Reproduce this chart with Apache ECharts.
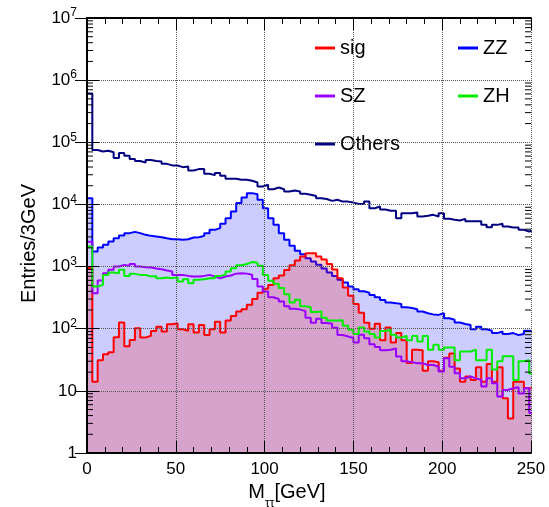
<!DOCTYPE html>
<html><head><meta charset="utf-8">
<script src="https://cdn.jsdelivr.net/npm/echarts@6/dist/echarts.min.js"></script>
<style>html,body{margin:0;padding:0;background:#fff}#c{width:549px;height:507px}</style>
</head><body><div id="c"></div>
<script>
// ---- data (3 GeV bins starting at 0 GeV) ----
const binWidth = 3;
const nBins = 84;
const binLow = Array.from({length: nBins}, (_, i) => i * binWidth);

const sig = [950,14,31,39,42,73,126,52,66,102,72,77,92,108,90,118,122,98,93,118,87,115,79,98,130,87,135,160,190,206,
  242,300,380,440,507,650,720,880,1050,1250,1450,1640,1640,1450,1300,1100,900,650,460,340,250,180,125,100,120,65,105,60,85,65,
  28,46,45,21,30,29,21,34,40,23,14,17,15,24,14,27,14,24,7.6,3.6,14,14,11,11];
const ZZ = [12600,1750,2030,2240,2530,2860,3160,3450,3620,3450,3240,3120,3050,2970,2860,2760,2760,2690,2760,2930,2970,3120,3450,3900,4150,4870,6010,7700,10500,12900,
  15200,14600,11900,8710,6010,4690,3450,2690,2155,1790,1580,1364,1205,1065,930,802,708,611,553,477,432,400,378,350,320,290,265,258,250,222,
  215,206,189,177,170,167,177,147,139,126,119,115,98,108,98,93,85,90,82,85,79,82,93,90];
const SZ = [2500,373,596,782,885,1001,1065,1026,1105,1001,977,965,930,907,863,832,735,735,708,691,691,708,735,691,650,691,720,770,780,770,
  740,630,477,396,320,300,275,230,210,203,192,150,125,145,124,120,104,79,75,71,60,80,70,56,51,45,46,48,35.6,30,
  29,27.8,27.8,26.1,26.1,24.5,20.4,33.4,24.5,19.2,15.9,17,15.9,15,11.7,15.9,13.2,8.1,10.3,11,11.4,9.1,11,4.4];
const ZH = [2100,477,507,735,802,782,885,708,763,735,735,691,708,650,666,650,674,574,626,540,611,626,650,650,708,735,830,940,1050,1100,
  1180,1150,1030,730,590,530,450,360,265,293,230,222,185,189,150,135,135,137,112,96,82,105,90,82,72,92,95,80,72,77,
  65,76,62,76,46,55,46,50,50,31,43,43,46,31,31,46,22,30,36,36,15,30,31,19];
const Others = [610000,75000,71000,73000,69000,56000,67000,61000,54000,50000,47000,52000,50000,49000,45000,42500,42400,39800,40800,35200,37000,37000,31100,29600,31900,28900,25800,25800,24900,24900,
  24000,22500,19400,20700,17600,18700,17600,16200,16800,16200,14800,14300,13700,12600,12200,11400,11900,11100,11100,10700,10200,10200,11100,8700,9260,8300,7900,7890,6010,7230,
  7230,7410,6390,6550,6800,6390,7230,5860,5650,5510,5860,5380,5380,5380,4690,4310,4690,4870,4410,4250,4250,3900,3670,3900];

const xTicks = [0, 50, 100, 150, 200, 250];
const yMin = 1, yMax = 1e7;
const yMinorTicks = [];
for (let e = 0; e < 7; e++) for (let m = 2; m <= 9; m++) yMinorTicks.push(m * Math.pow(10, e));

const FONT = 'Liberation Sans, Arial, Helvetica, sans-serif';

function stepData(vals) {
  const d = vals.map((v, i) => [binLow[i], v]);
  d.push([binLow[nBins - 1] + binWidth, vals[nBins - 1]]);
  return d;
}

function histSeries(name, vals, color, fill, z) {
  const s = {
    name, type: 'line', step: 'end', data: stepData(vals), symbol: 'none',
    color: color, lineStyle: {color: color, width: 2}, z: z, clip: true,
    emphasis: {disabled: true}, animation: false, xAxisIndex: 0, yAxisIndex: 0
  };
  if (fill) s.areaStyle = {color: fill, opacity: 1, origin: 'start'};
  return s;
}

const axisLineStyle = {show: true, lineStyle: {color: '#000', width: 2}};

const chart = echarts.init(document.getElementById('c'), null, {renderer: 'canvas'});
chart.setOption({
  animation: false,
  backgroundColor: '#fff',
  grid: {left: 87, right: 18, top: 18, bottom: 54, containLabel: false, outerBoundsMode: 'none'},
  legend: [
    {data: ['sig', 'SZ', 'Others'], orient: 'vertical', left: 310, top: 31, itemGap: 24,
     itemWidth: 20, itemHeight: 3, icon: 'rect', selectedMode: false,
     textStyle: {fontSize: 20, color: '#000', fontFamily: FONT, lineHeight: 24}},
    {data: ['ZZ', 'ZH'], orient: 'vertical', left: 453, top: 31, itemGap: 24,
     itemWidth: 20, itemHeight: 3, icon: 'rect', selectedMode: false,
     textStyle: {fontSize: 20, color: '#000', fontFamily: FONT, lineHeight: 24}}
  ],
  xAxis: [
    {type: 'value', min: xTicks[0], max: xTicks[xTicks.length - 1], interval: 50, position: 'bottom', z: 10,
     axisLine: axisLineStyle,
     axisTick: {show: true, inside: true, length: 12, lineStyle: {color: '#000', width: 1}},
     minorTick: {show: true, splitNumber: 5, length: 6, lineStyle: {color: '#000', width: 1}},
     splitLine: {show: true, lineStyle: {type: 'dotted', color: '#555', width: 1}},
     axisLabel: {fontSize: 17, color: '#000', fontFamily: FONT, margin: 8},
     name: '{m|M}{sub|ττ}{m|[GeV]}', nameLocation: 'middle', nameGap: 26,
     nameTextStyle: {padding: [0, 44, 0, 0], rich: {
       m: {fontSize: 20, fontFamily: FONT, color: '#000', lineHeight: 24},
       sub: {fontSize: 12, fontFamily: FONT, color: '#000', lineHeight: 24, verticalAlign: 'bottom', padding: [0, 0, -5, 0]}}}},
    {type: 'value', min: xTicks[0], max: xTicks[xTicks.length - 1], interval: 50, position: 'top', z: 10,
     axisLine: axisLineStyle,
     axisTick: {show: true, inside: true, length: 12, lineStyle: {color: '#000', width: 1}},
     minorTick: {show: true, splitNumber: 5, length: 6, lineStyle: {color: '#000', width: 1}},
     splitLine: {show: false}, axisLabel: {show: false}}
  ],
  yAxis: [
    {type: 'log', logBase: 10, min: yMin, max: yMax, position: 'left', z: 10,
     axisLine: axisLineStyle,
     axisTick: {show: true, inside: true, length: 12, lineStyle: {color: '#000', width: 1}},
     splitLine: {show: true, lineStyle: {type: 'dotted', color: '#555', width: 1}},
     axisLabel: {color: '#000', fontFamily: FONT, margin: 10, fontSize: 17,
       formatter: function (v) {
         const e = Math.round(Math.log10(v));
         if (e === 0) return '{b|1}';
         if (e === 1) return '{b|10}';
         return '{b|10}{s|' + e + '}';
       },
       rich: {b: {fontSize: 17, fontFamily: FONT, color: '#000', lineHeight: 22},
              s: {fontSize: 12, fontFamily: FONT, color: '#000', lineHeight: 22, verticalAlign: 'top'}}},
     name: 'Entries/3GeV', nameLocation: 'middle', nameGap: 48, nameRotate: 90,
     nameTextStyle: {fontSize: 20, color: '#000', fontFamily: FONT, padding: [0, 16, 0, 0]}},
    {type: 'log', logBase: 10, min: yMin, max: yMax, position: 'right', z: 10,
     axisLine: axisLineStyle,
     axisTick: {show: true, inside: true, length: 12, lineStyle: {color: '#000', width: 1}},
     splitLine: {show: false}, axisLabel: {show: false}}
  ],
  series: [
    histSeries('sig', sig, '#ff0000', 'rgba(255,0,0,0.2)', 3),
    histSeries('ZZ', ZZ, '#0000ff', 'rgba(0,0,255,0.2)', 2),
    histSeries('SZ', SZ, '#9900ff', null, 4),
    histSeries('ZH', ZH, '#00ee00', null, 4),
    histSeries('Others', Others, '#000080', null, 4),
    {type: 'custom', name: 'yMinor', coordinateSystem: 'cartesian2d', xAxisIndex: 0, yAxisIndex: 0,
     silent: true, z: 20, animation: false,
     data: yMinorTicks.map(v => [xTicks[0], v]),
     renderItem: function (params, api) {
       const v = api.value(1);
       const pl = api.coord([xTicks[0], v]);
       const pr = api.coord([xTicks[xTicks.length - 1], v]);
       return {type: 'group', children: [
         {type: 'line', shape: {x1: pl[0], y1: pl[1], x2: pl[0] + 6, y2: pl[1]}, style: {stroke: '#000', lineWidth: 1}},
         {type: 'line', shape: {x1: pr[0] - 6, y1: pr[1], x2: pr[0], y2: pr[1]}, style: {stroke: '#000', lineWidth: 1}}
       ]};
     }}
  ]
});
</script>
</body></html>
